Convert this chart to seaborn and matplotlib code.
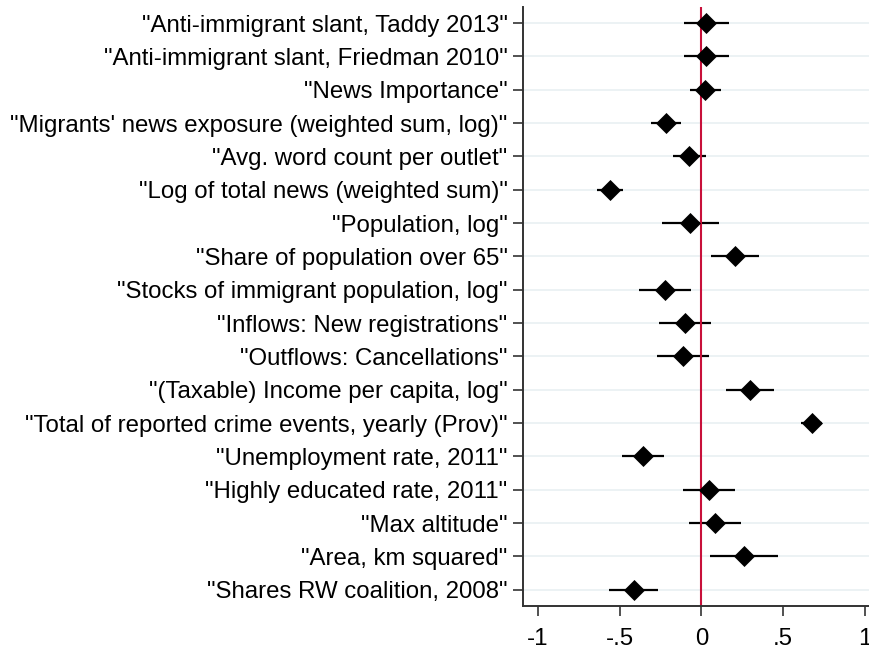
import numpy as np
import pandas as pd
import matplotlib
matplotlib.use("Agg")
import matplotlib.pyplot as plt
import seaborn as sns

# Variables (top to bottom)
labels = [
    '"Anti-immigrant slant, Taddy 2013"',
    '"Anti-immigrant slant, Friedman 2010"',
    '"News Importance"',
    '"Migrants\' news exposure (weighted sum, log)"',
    '"Avg. word count per outlet"',
    '"Log of total news (weighted sum)"',
    '"Population, log"',
    '"Share of population over 65"',
    '"Stocks of immigrant population, log"',
    '"Inflows: New registrations"',
    '"Outflows: Cancellations"',
    '"(Taxable) Income per capita, log"',
    '"Total of reported crime events, yearly (Prov)"',
    '"Unemployment rate, 2011"',
    '"Highly educated rate, 2011"',
    '"Max altitude"',
    '"Area, km squared"',
    '"Shares RW coalition, 2008"',
]
coef = [0.031, 0.031, 0.022, -0.214, -0.073, -0.559, -0.067, 0.206, -0.222,
        -0.098, -0.114, 0.298, 0.676, -0.355, 0.045, 0.086, 0.263, -0.414]
ci_lo = [-0.106, -0.106, -0.069, -0.306, -0.176, -0.639, -0.243, 0.057, -0.382,
         -0.257, -0.273, 0.153, 0.612, -0.484, -0.112, -0.078, 0.053, -0.563]
ci_hi = [0.167, 0.167, 0.118, -0.124, 0.031, -0.478, 0.108, 0.355, -0.061,
         0.061, 0.045, 0.445, 0.739, -0.227, 0.204, 0.245, 0.467, -0.263]

xticks = [-1, -0.5, 0, 0.5, 1]
xticklabels = ["-1", "-.5", "0", ".5", "1"]

df = pd.DataFrame({"var": labels, "coef": coef, "lo": ci_lo, "hi": ci_hi})
df["pos"] = np.arange(len(df))

sns.set_style("white")
plt.rcParams["font.family"] = ["Liberation Sans", "DejaVu Sans"]

fig, ax = plt.subplots(figsize=(8.7, 6.5), dpi=100)
fig.subplots_adjust(left=0.601, right=1.0, top=0.989, bottom=0.068)

# light horizontal grid
for p in df["pos"]:
    ax.axhline(p, color="#eaf1f3", lw=1.3, zorder=0)

# confidence intervals
ax.hlines(df["pos"], df["lo"], df["hi"], color="black", lw=1.6, zorder=1)
# zero line
ax.axvline(0, color="#c8103a", lw=1.5, zorder=2)
# point estimates
sns.scatterplot(data=df, x="coef", y="pos", marker="D", s=115, color="black",
                edgecolor="black", linewidth=0, zorder=3, ax=ax, legend=False)

ax.set_yticks(df["pos"])
ax.set_yticklabels(df["var"])
ax.set_ylim(len(df) - 0.52, -0.48)
ax.set_xticks(xticks)
ax.set_xticklabels(xticklabels)
ax.set_xlim(-1.092, 1.032)
ax.set_xlabel("")
ax.set_ylabel("")

for s in ["top", "right"]:
    ax.spines[s].set_visible(False)
for s in ["left", "bottom"]:
    ax.spines[s].set_color("#333333")
    ax.spines[s].set_linewidth(1.4)

ax.tick_params(axis="y", length=7, width=1.2, color="#333333", labelsize=17.3,
               labelcolor="black", pad=4, left=True)
ax.tick_params(axis="x", length=7, width=1.2, color="#333333", labelsize=17.3,
               labelcolor="black", pad=9, bottom=True)

plt.savefig("out.png", dpi=100)
